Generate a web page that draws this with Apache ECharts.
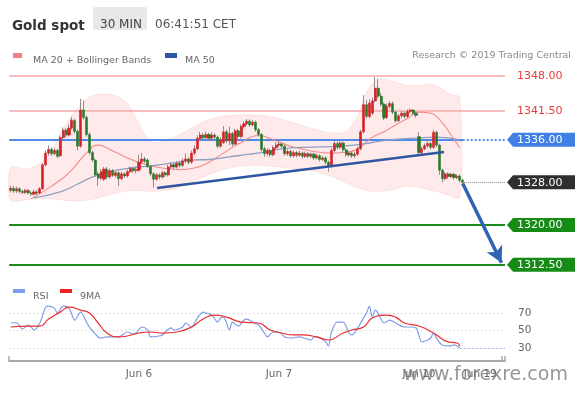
<!DOCTYPE html>
<html><head><meta charset="utf-8">
<script src="https://cdn.jsdelivr.net/npm/echarts@6.0.0/dist/echarts.min.js"></script>
<style>html,body{margin:0;padding:0;background:#fff}#c{width:580px;height:393px}</style>
</head><body><div id="c"></div>
<script>
// ---- data (open, close, low, high) per 30-min bar ----
const ohlc = [
[1326.5,1326.9,1326.1,1327.4],[1326.9,1326.4,1326.0,1327.3],[1326.4,1326.8,1326.0,1327.2],[1326.8,1326.3,1325.9,1327.1],
[1326.3,1326.1,1325.8,1326.6],[1326.1,1326.5,1325.8,1326.8],[1326.5,1326.0,1325.7,1326.8],[1326.0,1325.8,1325.5,1326.3],
[1325.8,1326.2,1325.5,1326.6],[1326.2,1326.0,1325.6,1326.5],[1326.0,1326.8,1325.8,1327.1],[1326.8,1331.3,1326.6,1331.6],
[1331.3,1333.5,1331.0,1334.0],[1333.5,1334.2,1333.0,1335.0],[1334.2,1333.4,1333.0,1334.6],[1333.4,1334.0,1333.1,1334.4],
[1334.0,1332.9,1332.6,1334.3],[1333.0,1336.4,1332.8,1336.8],[1336.4,1337.8,1336.1,1338.3],[1337.8,1336.9,1336.5,1338.2],
[1336.9,1338.2,1336.6,1338.9],[1338.2,1339.7,1337.9,1340.3],[1339.6,1337.6,1337.2,1339.9],[1337.6,1334.8,1334.0,1337.9],
[1334.8,1341.6,1334.5,1343.7],[1341.6,1340.2,1339.8,1343.4],[1340.2,1337.0,1336.6,1340.6],[1337.0,1333.6,1333.2,1337.4],
[1333.6,1332.2,1331.8,1334.0],[1332.2,1329.4,1329.0,1332.6],[1329.6,1328.8,1327.3,1330.0],[1328.8,1330.0,1328.4,1330.5],
[1328.6,1330.5,1328.3,1330.9],[1330.5,1329.0,1328.6,1330.9],[1329.0,1330.2,1328.7,1330.6],[1330.2,1329.3,1329.0,1330.5],
[1329.3,1329.8,1328.9,1330.2],[1329.8,1328.7,1327.3,1330.1],[1328.7,1329.6,1328.4,1330.0],[1329.6,1329.2,1328.8,1329.9],
[1329.2,1330.0,1328.9,1330.4],[1330.0,1330.6,1329.7,1331.0],[1330.6,1330.2,1329.8,1330.9],[1330.2,1330.4,1329.7,1330.8],
[1330.3,1331.8,1330.0,1333.2],[1331.8,1332.4,1331.5,1333.5],[1332.4,1332.0,1331.6,1332.8],[1332.2,1331.0,1330.7,1332.5],
[1331.0,1329.6,1329.2,1331.3],[1329.6,1328.6,1327.0,1329.9],[1328.6,1329.4,1328.3,1329.8],[1329.4,1329.0,1328.6,1329.7],
[1329.0,1329.8,1328.7,1330.2],[1329.8,1329.4,1329.0,1330.1],[1329.4,1330.9,1329.1,1331.3],[1330.9,1331.3,1330.5,1331.8],
[1331.3,1330.9,1330.5,1331.6],[1330.9,1331.6,1330.6,1332.0],[1331.6,1331.2,1330.8,1331.9],[1331.2,1332.0,1330.9,1332.5],
[1332.0,1332.4,1331.6,1333.4],[1332.4,1331.8,1331.4,1332.7],[1331.8,1333.5,1331.5,1334.0],[1333.5,1334.3,1333.1,1335.0],
[1334.3,1336.3,1334.0,1336.8],[1336.2,1336.9,1335.8,1337.5],[1336.9,1336.4,1336.0,1337.3],[1336.4,1337.0,1336.0,1337.5],
[1337.0,1336.3,1335.9,1337.3],[1336.3,1336.9,1336.0,1337.4],[1336.9,1336.5,1336.1,1337.2],[1336.5,1334.8,1334.4,1336.8],
[1334.8,1336.0,1334.5,1336.5],[1335.5,1337.5,1335.2,1338.6],[1337.5,1335.8,1335.4,1337.9],[1335.8,1337.2,1335.0,1338.5],
[1337.2,1335.2,1334.8,1337.5],[1335.2,1337.7,1335.0,1338.1],[1337.7,1336.6,1336.2,1338.0],[1336.6,1338.5,1336.3,1338.9],
[1338.5,1339.0,1338.1,1339.5],[1339.0,1339.5,1338.7,1339.9],[1339.5,1338.8,1338.4,1339.8],[1338.8,1339.3,1338.5,1339.7],
[1339.3,1337.9,1337.5,1339.6],[1337.9,1337.0,1336.6,1338.2],[1337.0,1334.2,1333.8,1337.3],[1334.3,1333.4,1332.8,1334.7],
[1333.4,1334.0,1333.0,1334.4],[1334.0,1333.2,1332.8,1334.3],[1333.2,1334.5,1332.9,1334.9],[1334.5,1335.0,1334.2,1335.5],
[1335.0,1335.2,1334.6,1335.6],[1335.2,1334.8,1334.4,1335.5],[1334.8,1333.4,1333.0,1335.1],[1333.4,1333.8,1333.0,1334.2],
[1333.8,1333.0,1332.6,1334.1],[1333.0,1333.6,1332.7,1334.0],[1333.6,1333.1,1332.7,1333.9],[1333.1,1333.5,1332.8,1333.9],
[1333.5,1332.9,1332.5,1333.8],[1332.9,1333.4,1332.6,1333.8],[1333.4,1332.9,1332.5,1333.7],[1332.9,1333.3,1332.5,1333.6],
[1333.3,1332.6,1332.2,1333.6],[1332.6,1333.0,1332.3,1333.4],[1333.0,1332.3,1331.9,1333.3],[1332.3,1332.6,1332.0,1333.0],
[1332.6,1331.8,1331.4,1332.9],[1331.8,1331.1,1330.0,1332.1],[1331.1,1334.0,1330.8,1334.4],[1334.0,1335.3,1333.7,1335.8],
[1335.3,1334.6,1334.2,1335.7],[1334.6,1335.4,1334.3,1335.9],[1335.4,1334.1,1333.7,1335.7],[1334.1,1333.2,1332.8,1334.4],
[1333.2,1333.5,1332.8,1333.9],[1333.5,1333.0,1332.6,1333.8],[1333.0,1333.3,1332.6,1333.7],[1333.3,1334.3,1333.0,1334.7],
[1334.3,1337.5,1334.0,1337.9],[1337.5,1342.6,1337.2,1344.4],[1342.6,1340.4,1340.0,1343.5],[1340.4,1342.9,1340.0,1343.6],
[1341.0,1343.3,1340.7,1343.9],[1343.3,1345.7,1343.0,1347.8],[1345.7,1344.2,1343.8,1347.5],[1344.2,1342.7,1342.3,1344.8],
[1342.7,1340.1,1339.7,1343.0],[1340.2,1342.3,1339.9,1342.8],[1342.3,1342.8,1341.9,1343.3],[1342.8,1341.2,1340.8,1343.2],
[1341.2,1339.6,1339.2,1341.5],[1339.6,1340.5,1339.3,1340.9],[1340.5,1341.0,1340.1,1341.4],[1341.0,1340.4,1340.0,1341.3],
[1340.4,1341.3,1340.1,1341.7],[1341.3,1341.6,1340.9,1341.9],[1341.6,1341.0,1340.7,1341.8],[1341.0,1340.6,1340.2,1341.3],
[1336.6,1333.6,1333.0,1337.4],[1333.6,1334.3,1333.2,1334.7],[1334.3,1334.9,1334.0,1335.3],[1334.9,1335.3,1334.5,1335.7],
[1335.3,1334.6,1334.2,1335.6],[1334.6,1337.4,1334.3,1337.9],[1337.4,1335.0,1334.6,1337.7],[1335.0,1330.3,1329.4,1335.3],
[1330.3,1328.7,1328.0,1330.6],[1328.7,1329.6,1328.4,1330.0],[1329.6,1329.1,1328.7,1329.9],[1329.1,1329.5,1328.8,1329.8],
[1329.5,1328.9,1328.5,1329.8],[1328.9,1329.2,1328.6,1329.5],[1329.2,1328.4,1328.0,1329.5],[1328.4,1328.0,1327.7,1328.7]
];
const categoryCount = 170;
const dayLabels = {44:'Jun 6', 92:'Jun 7', 140:'Jun 10', 161:'Jun 19'};

const bandUpper = [[0,1330.8],[6,1330.5],[11,1332],[15,1335],[19,1339],[23,1342],[27,1344],[31,1344.6],[36,1344.3],[40,1342.8],[43,1340],[46,1337],[49,1335.5],[53,1335.8],[58,1337],[63,1338.5],[68,1339.8],[74,1340.5],[80,1340.7],[86,1340.6],[92,1340],[98,1339],[104,1338],[110,1337.3],[115,1337.5],[119,1340.5],[122,1345],[126,1347.4],[130,1347.2],[135,1346.3],[140,1346.2],[144,1346.5],[148,1345.5],[151,1344.5],[154,1344]];
const bandLower = [[0,1324.6],[6,1324.8],[11,1325],[16,1324.8],[22,1324.5],[28,1324.8],[33,1325.6],[38,1326.2],[43,1326.5],[48,1326.3],[54,1326.6],[60,1327.5],[66,1329],[72,1330.3],[78,1331],[84,1331.2],[90,1331],[96,1330.7],[102,1330.3],[108,1329.5],[114,1328.2],[119,1327],[124,1326.3],[130,1326.5],[136,1327.3],[142,1326.8],[148,1326],[154,1325.2]];
const ma20 = [[7,1324.9],[14,1327.3],[20,1329.8],[26,1333.5],[30,1335],[34,1334.2],[40,1332.6],[46,1331.4],[52,1330.7],[58,1330.4],[63,1330.7],[68,1331.8],[73,1333.5],[79,1335.5],[85,1336.8],[90,1336],[96,1334.8],[103,1333.9],[110,1333.5],[116,1333.7],[120,1334.7],[124,1336.5],[128,1337.5],[132,1338.8],[136,1340],[140,1341.2],[144,1341],[148,1339.2],[151,1336.9],[154,1334.5]];
const ma50 = [[8,1325.1],[17,1326.2],[23,1327.7],[28,1329],[34,1330],[41,1330.7],[48,1331.1],[55,1331.6],[62,1332.2],[68,1332.3],[75,1332.8],[82,1333.3],[87,1333.7],[96,1334.5],[110,1334.7],[116,1334.9],[123,1335.4],[130,1336],[139,1336.3],[146,1336.5],[154,1336]];
const trendLine = [[50.2,1326.95],[148.6,1333.7]];
const arrowLine = [[155,1327.8],[168.3,1312.9]];
const levels = [1348, 1341.5, 1336, 1328, 1320, 1312.5];
const levelLabels = ['1348.00','1341.50','1336.00','1328.00','1320.00','1312.50'];

const rsi = [[0,58.6],[2,58.9],[4,51.7],[6,56.3],[7,54],[8,50.6],[10,58.6],[12,76.9],[13,78],[15,75.7],[16,70],[18,78],[20,75.7],[22,62],[24,71.1],[26,59.7],[27,54],[30,42.6],[31,41.4],[33,42.6],[35,42.6],[37,42.6],[40,48.3],[42,46],[43,47.1],[45,54],[47,50.6],[48,42.6],[51,43.7],[52,44.9],[55,52.9],[56,50.6],[59,54],[60,58.6],[62,54],[64,64.3],[66,71.1],[67,70],[69,67.7],[71,59.7],[72,64.3],[73,65.4],[75,50.6],[76,59.7],[78,55.1],[80,62],[81,63.1],[83,59.7],[85,56.3],[87,47.1],[88,42.6],[90,48.3],[92,48.3],[94,42.6],[96,41.4],[99,42.6],[103,39.1],[104,42.6],[106,41.4],[108,36.9],[109,32.3],[110,48.3],[112,59.7],[114,59.7],[116,47.1],[117,44.9],[119,52.9],[120,58.6],[122,70],[123,78],[124,65.4],[125,73.4],[126,70],[128,58.6],[130,62],[132,58.6],[135,54],[137,54],[139,52.9],[141,36.9],[143,39.1],[144,41.4],[145,47.1],[146,41.4],[148,33.4],[151,32.3],[152,33.4],[154,30]];
const rsiMA = [[0,54],[6,55.1],[10,55.1],[13,63.1],[17,71.1],[20,76.9],[24,73.4],[27,70],[30,58.6],[33,47.1],[37,42.6],[40,43.7],[44,47.1],[48,48.3],[52,47.1],[57,48.3],[62,54],[66,63.1],[70,67.7],[74,65.4],[79,59.7],[85,58.6],[89,50.6],[93,47.1],[97,44.9],[100,44.9],[105,42.6],[109,39.1],[114,47.1],[117,50.6],[121,54],[124,64.3],[129,67.7],[132,65.4],[135,58.6],[140,55.1],[145,47.1],[150,36.9],[153,35.7],[154,32.3]];
const rsiLevels = [70, 50, 30];

// ---- styles ----
const FONT = 'DejaVu Sans';
const levelStyle = [
  {kind:'text', color:'#ea3b3b', line:'#f6a8a8', width:1.5, type:'solid'},
  {kind:'text', color:'#ea3b3b', line:'#f6a8a8', width:1.5, type:'solid'},
  {kind:'tag', color:'#3f80e6', line:'#5189ea', width:2, type:'solid', solidTo:155},
  {kind:'tag', color:'#2f2f2f', line:'#8a8a8a', width:1, type:'dotted', from:155.5},
  {kind:'tag', color:'#168b16', line:'#1c8a1c', width:2, type:'solid'},
  {kind:'tag', color:'#168b16', line:'#1c8a1c', width:2, type:'solid'}
];

const cats = Array.from({length: categoryCount}, (_, i) => String(i));
const bodies = ohlc.map(d => [d[0], d[1], Math.min(d[0], d[1]), Math.max(d[0], d[1])]);
const X0 = -0.5, X1 = categoryCount - 0.5;

const levelMarks = [];
levels.forEach((v, i) => {
  const st = levelStyle[i];
  if (st.solidTo !== undefined) {
    levelMarks.push([{coord:[X0, v], lineStyle:{color:st.line, width:st.width, type:'solid'}}, {coord:[st.solidTo, v]}]);
    levelMarks.push([{coord:[st.solidTo, v], lineStyle:{color:st.line, width:st.width, type:'dotted'}}, {coord:[X1, v]}]);
  } else {
    const from = st.from !== undefined ? st.from : X0;
    levelMarks.push([{coord:[from, v], lineStyle:{color:st.line, width:st.width, type:st.type}}, {coord:[X1, v]}]);
  }
});

const chart = echarts.init(document.getElementById('c'), null, {renderer:'canvas'});
const txt = (x, y, text, size, color, weight, align) => ({
  type:'text', left:x, top:y,
  style:{text, fill:color, font:(weight||'normal') + ' ' + size + 'px "' + FONT + '"', textAlign: align||'left', textVerticalAlign:'middle'}
});

chart.setOption({
  animation:false,
  backgroundColor:'#fff',
  textStyle:{fontFamily:FONT},
  grid:[
    {left:9.2, top:60, width:495.8, height:220},
    {left:9.2, top:300, width:495.8, height:61}
  ],
  xAxis:[
    {gridIndex:0, type:'category', data:cats, show:false},
    {gridIndex:0, type:'value', min:X0, max:X1, show:false},
    {gridIndex:1, type:'category', data:cats,
      axisLine:{lineStyle:{color:'#a9a9a9', width:2}},
      axisTick:{show:true, inside:true, length:5, lineStyle:{color:'#a9a9a9', width:1.5},
        interval:(i) => i === 0 || i === categoryCount - 1},
      axisLabel:{color:'#666', fontSize:10.5, margin:8, fontFamily:FONT,
        interval:(i) => dayLabels[i] !== undefined,
        formatter:(v) => dayLabels[v] || ''},
      splitLine:{show:false}},
    {gridIndex:1, type:'value', min:X0, max:X1, show:false}
  ],
  yAxis:[
    {gridIndex:0, type:'value', min:1309.65, max:1351, show:false},
    {gridIndex:1, type:'value', min:15, max:85, show:false}
  ],
  series:[
    {type:'custom', name:'band', xAxisIndex:1, yAxisIndex:0, z:1, silent:true,
      data:[[0, bandUpper[0][1]]],
      renderItem:(params, api) => {
        const pts = bandUpper.map(d => api.coord(d)).concat(bandLower.slice().reverse().map(d => api.coord(d)));
        return {type:'polygon', shape:{points:pts, smooth:0.25},
          style:{fill:'rgba(250,178,178,0.28)', stroke:'rgba(245,170,170,0.25)', lineWidth:1}};
      }},
    {type:'line', name:'MA 20', xAxisIndex:1, yAxisIndex:0, data:ma20, smooth:true, symbol:'none', z:2,
      lineStyle:{color:'#f28a8a', width:1.1}},
    {type:'line', name:'MA 50', xAxisIndex:1, yAxisIndex:0, data:ma50, smooth:true, symbol:'none', z:2,
      lineStyle:{color:'#8e9fc4', width:1.3}},
    {type:'candlestick', name:'wicks', xAxisIndex:0, yAxisIndex:0, data:ohlc, barWidth:1, z:3,
      itemStyle:{color:'#8f8f8f', color0:'#8f8f8f', borderColor:'#8f8f8f', borderColor0:'#8f8f8f', borderWidth:1}},
    {type:'candlestick', name:'bodies', xAxisIndex:0, yAxisIndex:0, data:bodies, barWidth:2.6, z:4,
      itemStyle:{color:'#d42226', color0:'#2a7a2a', borderColor:'#d42226', borderColor0:'#2a7a2a', borderWidth:0.6}},
    {type:'line', name:'trend', xAxisIndex:1, yAxisIndex:0, data:trendLine, symbol:'none', z:5,
      lineStyle:{color:'#2e56a3', width:2.5}},
    {type:'custom', name:'levels', xAxisIndex:1, yAxisIndex:0, z:6, clip:false, silent:true,
      data:levels.map((v, i) => [X1, v, i]),
      renderItem:(params, api) => {
        const i = api.value(2);
        const p = api.coord([api.value(0), api.value(1)]);
        const st = levelStyle[i];
        const x = p[0], y = p[1];
        const children = [];
        if (st.kind === 'tag') {
          children.push({type:'polygon', shape:{points:[[x+2,y],[x+8,y-7],[x+70,y-7],[x+70,y+7],[x+8,y+7]]},
            style:{fill:st.color}});
        }
        children.push({type:'text', style:{x:x+12, y:y+0.5, text:levelLabels[i],
          fill: st.kind === 'tag' ? '#fff' : st.color,
          font:'11px "' + FONT + '"', align:'left', verticalAlign:'middle'}});
        return {type:'group', children};
      },
      markLine:{silent:true, symbol:['none','none'], label:{show:false}, data:levelMarks, z:2}},
    {type:'line', name:'arrow', xAxisIndex:1, yAxisIndex:0, data:[], symbol:'none', z:7,
      markLine:{silent:true, symbol:['none','arrow'], symbolSize:[13,16], label:{show:false},
        lineStyle:{color:'#2f63b3', width:3.5, type:'solid'},
        data:[[{coord:arrowLine[0]}, {coord:arrowLine[1]}]]}},
    {type:'line', name:'RSI', xAxisIndex:3, yAxisIndex:1, data:rsi, smooth:0.3, symbol:'none', z:3,
      lineStyle:{color:'#7f9fe8', width:1.2},
      markLine:{silent:true, symbol:['none','none'], z:1,
        data: rsiLevels.map(v => [
          {coord:[X0, v], lineStyle:{color:'#dcbaba', width:1, type:[1,3]},
            label:{show:true, position:'end', formatter:String(v), color:'#666', fontSize:10.5, fontFamily:FONT, distance:13}},
          {coord:[X1, v]}
        ]).concat([[{coord:[rsi[rsi.length-1][0], rsi[rsi.length-1][1]], lineStyle:{color:'#7f9fe8', width:1.2, type:[1,3]}, label:{show:false}},
          {coord:[X1, rsi[rsi.length-1][1]]}]])}},
    {type:'line', name:'9MA', xAxisIndex:3, yAxisIndex:1, data:rsiMA, smooth:0.5, symbol:'none', z:4,
      lineStyle:{color:'#ee2d2d', width:1.2}}
  ],
  graphic:[
    txt(12, 19, 'Gold spot', 13.5, '#333', 'bold'),
    {type:'rect', left:93, top:7, shape:{width:54, height:23, r:2}, style:{fill:'#e8e8e8'}},
    txt(100, 19, '30 MIN', 12, '#444'),
    txt(155, 19, '06:41:51 CET', 12, '#555'),
    {type:'rect', left:13, top:53, shape:{width:9, height:5}, style:{fill:'#f28080'}},
    txt(33, 56, 'MA 20 + Bollinger Bands', 9.5, '#666'),
    {type:'rect', left:165, top:53, shape:{width:12, height:5}, style:{fill:'#2e56a3'}},
    txt(185, 56, 'MA 50', 9.5, '#666'),
    {type:'text', right:9, top:51, style:{text:'Research \u00a9 2019 Trading Central', fill:'#888', font:'9.5px "' + FONT + '"'}},
    {type:'rect', left:13, top:289, shape:{width:12, height:4}, style:{fill:'#7f9fe8'}},
    txt(33, 292, 'RSI', 9.5, '#666'),
    {type:'rect', left:60, top:289, shape:{width:12, height:4}, style:{fill:'#ee2020'}},
    txt(80, 292, '9MA', 9.5, '#666'),
    {type:'text', left:403, top:366, z:100, style:{text:'www.forexre.com', fill:'rgba(105,105,105,0.7)', font:'19px "' + FONT + '"'}}
  ]
});
</script></body></html>
